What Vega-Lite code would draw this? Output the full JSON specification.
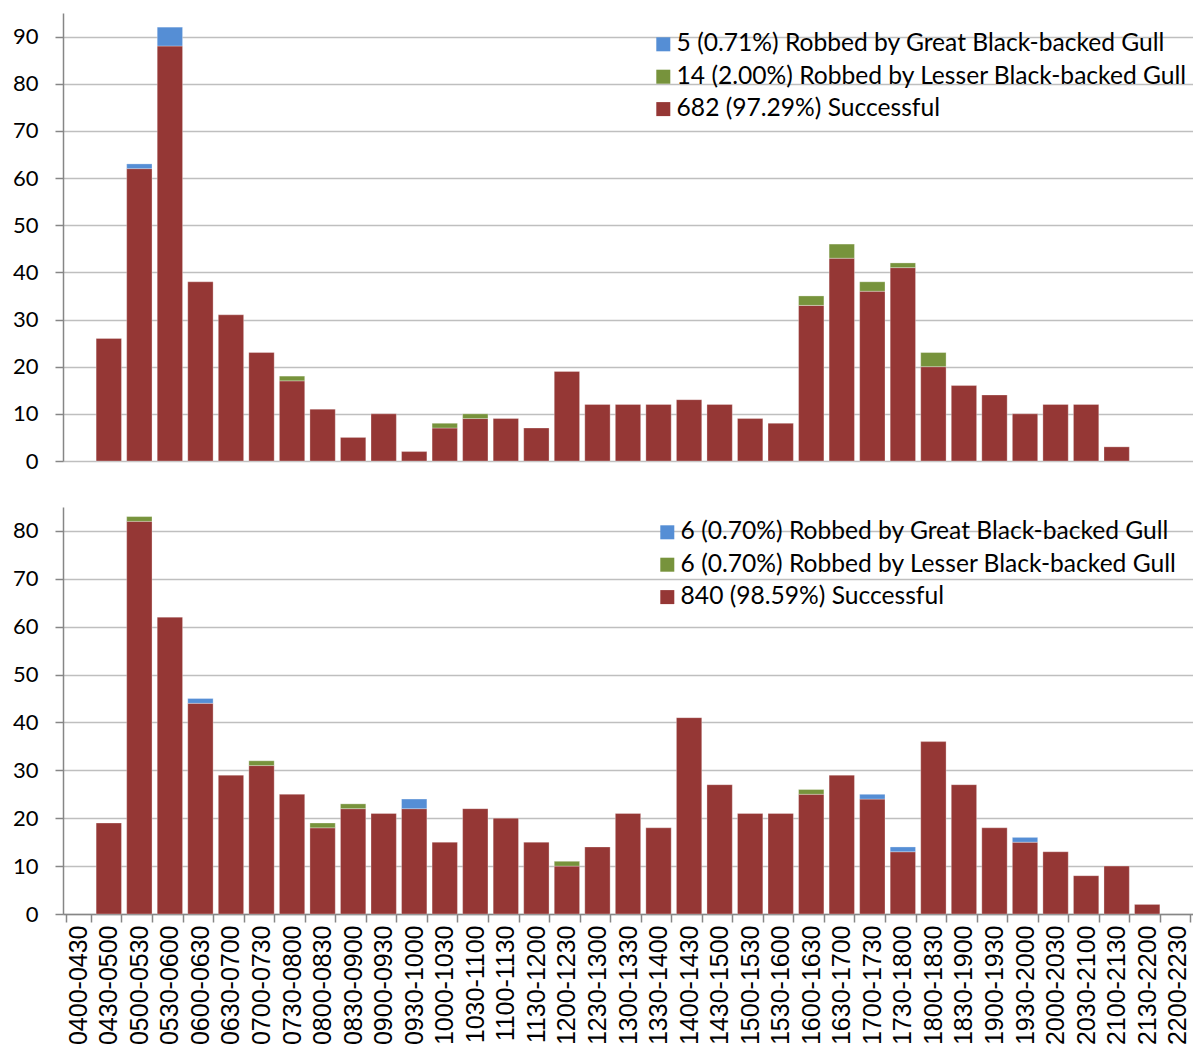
{
  "$schema": "https://vega.github.io/schema/vega-lite/v6.json",
  "padding": {"left": 12, "top": 13, "right": 0, "bottom": 0},
  "background": "white",
  "spacing": 46,
  "bounds": "flush",
  "config": {
    "view": {"stroke": null},
    "axis": {"labelColor": "#000000", "title": null},
    "legend": {"labelFont": "Lato", "labelFontSize": 24.6, "labelColor": "#000000", "symbolType": "square", "symbolSize": 196, "symbolStrokeWidth": 0, "rowPadding": 7.4, "labelOffset": 1, "labelLimit": 700}
  },
  "datasets": {
    "counts": [
      {"panel": "upper", "time": "0430-0500", "type": "Successful", "n": 26},
      {"panel": "upper", "time": "0500-0530", "type": "Successful", "n": 62},
      {"panel": "upper", "time": "0500-0530", "type": "Great", "n": 1},
      {"panel": "upper", "time": "0530-0600", "type": "Successful", "n": 88},
      {"panel": "upper", "time": "0530-0600", "type": "Great", "n": 4},
      {"panel": "upper", "time": "0600-0630", "type": "Successful", "n": 38},
      {"panel": "upper", "time": "0630-0700", "type": "Successful", "n": 31},
      {"panel": "upper", "time": "0700-0730", "type": "Successful", "n": 23},
      {"panel": "upper", "time": "0730-0800", "type": "Successful", "n": 17},
      {"panel": "upper", "time": "0730-0800", "type": "Lesser", "n": 1},
      {"panel": "upper", "time": "0800-0830", "type": "Successful", "n": 11},
      {"panel": "upper", "time": "0830-0900", "type": "Successful", "n": 5},
      {"panel": "upper", "time": "0900-0930", "type": "Successful", "n": 10},
      {"panel": "upper", "time": "0930-1000", "type": "Successful", "n": 2},
      {"panel": "upper", "time": "1000-1030", "type": "Successful", "n": 7},
      {"panel": "upper", "time": "1000-1030", "type": "Lesser", "n": 1},
      {"panel": "upper", "time": "1030-1100", "type": "Successful", "n": 9},
      {"panel": "upper", "time": "1030-1100", "type": "Lesser", "n": 1},
      {"panel": "upper", "time": "1100-1130", "type": "Successful", "n": 9},
      {"panel": "upper", "time": "1130-1200", "type": "Successful", "n": 7},
      {"panel": "upper", "time": "1200-1230", "type": "Successful", "n": 19},
      {"panel": "upper", "time": "1230-1300", "type": "Successful", "n": 12},
      {"panel": "upper", "time": "1300-1330", "type": "Successful", "n": 12},
      {"panel": "upper", "time": "1330-1400", "type": "Successful", "n": 12},
      {"panel": "upper", "time": "1400-1430", "type": "Successful", "n": 13},
      {"panel": "upper", "time": "1430-1500", "type": "Successful", "n": 12},
      {"panel": "upper", "time": "1500-1530", "type": "Successful", "n": 9},
      {"panel": "upper", "time": "1530-1600", "type": "Successful", "n": 8},
      {"panel": "upper", "time": "1600-1630", "type": "Successful", "n": 33},
      {"panel": "upper", "time": "1600-1630", "type": "Lesser", "n": 2},
      {"panel": "upper", "time": "1630-1700", "type": "Successful", "n": 43},
      {"panel": "upper", "time": "1630-1700", "type": "Lesser", "n": 3},
      {"panel": "upper", "time": "1700-1730", "type": "Successful", "n": 36},
      {"panel": "upper", "time": "1700-1730", "type": "Lesser", "n": 2},
      {"panel": "upper", "time": "1730-1800", "type": "Successful", "n": 41},
      {"panel": "upper", "time": "1730-1800", "type": "Lesser", "n": 1},
      {"panel": "upper", "time": "1800-1830", "type": "Successful", "n": 20},
      {"panel": "upper", "time": "1800-1830", "type": "Lesser", "n": 3},
      {"panel": "upper", "time": "1830-1900", "type": "Successful", "n": 16},
      {"panel": "upper", "time": "1900-1930", "type": "Successful", "n": 14},
      {"panel": "upper", "time": "1930-2000", "type": "Successful", "n": 10},
      {"panel": "upper", "time": "2000-2030", "type": "Successful", "n": 12},
      {"panel": "upper", "time": "2030-2100", "type": "Successful", "n": 12},
      {"panel": "upper", "time": "2100-2130", "type": "Successful", "n": 3},

      {"panel": "lower", "time": "0430-0500", "type": "Successful", "n": 19},
      {"panel": "lower", "time": "0500-0530", "type": "Successful", "n": 82},
      {"panel": "lower", "time": "0500-0530", "type": "Lesser", "n": 1},
      {"panel": "lower", "time": "0530-0600", "type": "Successful", "n": 62},
      {"panel": "lower", "time": "0600-0630", "type": "Successful", "n": 44},
      {"panel": "lower", "time": "0600-0630", "type": "Great", "n": 1},
      {"panel": "lower", "time": "0630-0700", "type": "Successful", "n": 29},
      {"panel": "lower", "time": "0700-0730", "type": "Successful", "n": 31},
      {"panel": "lower", "time": "0700-0730", "type": "Lesser", "n": 1},
      {"panel": "lower", "time": "0730-0800", "type": "Successful", "n": 25},
      {"panel": "lower", "time": "0800-0830", "type": "Successful", "n": 18},
      {"panel": "lower", "time": "0800-0830", "type": "Lesser", "n": 1},
      {"panel": "lower", "time": "0830-0900", "type": "Successful", "n": 22},
      {"panel": "lower", "time": "0830-0900", "type": "Lesser", "n": 1},
      {"panel": "lower", "time": "0900-0930", "type": "Successful", "n": 21},
      {"panel": "lower", "time": "0930-1000", "type": "Successful", "n": 22},
      {"panel": "lower", "time": "0930-1000", "type": "Great", "n": 2},
      {"panel": "lower", "time": "1000-1030", "type": "Successful", "n": 15},
      {"panel": "lower", "time": "1030-1100", "type": "Successful", "n": 22},
      {"panel": "lower", "time": "1100-1130", "type": "Successful", "n": 20},
      {"panel": "lower", "time": "1130-1200", "type": "Successful", "n": 15},
      {"panel": "lower", "time": "1200-1230", "type": "Successful", "n": 10},
      {"panel": "lower", "time": "1200-1230", "type": "Lesser", "n": 1},
      {"panel": "lower", "time": "1230-1300", "type": "Successful", "n": 14},
      {"panel": "lower", "time": "1300-1330", "type": "Successful", "n": 21},
      {"panel": "lower", "time": "1330-1400", "type": "Successful", "n": 18},
      {"panel": "lower", "time": "1400-1430", "type": "Successful", "n": 41},
      {"panel": "lower", "time": "1430-1500", "type": "Successful", "n": 27},
      {"panel": "lower", "time": "1500-1530", "type": "Successful", "n": 21},
      {"panel": "lower", "time": "1530-1600", "type": "Successful", "n": 21},
      {"panel": "lower", "time": "1600-1630", "type": "Successful", "n": 25},
      {"panel": "lower", "time": "1600-1630", "type": "Lesser", "n": 1},
      {"panel": "lower", "time": "1630-1700", "type": "Successful", "n": 29},
      {"panel": "lower", "time": "1700-1730", "type": "Successful", "n": 24},
      {"panel": "lower", "time": "1700-1730", "type": "Great", "n": 1},
      {"panel": "lower", "time": "1730-1800", "type": "Successful", "n": 13},
      {"panel": "lower", "time": "1730-1800", "type": "Great", "n": 1},
      {"panel": "lower", "time": "1800-1830", "type": "Successful", "n": 36},
      {"panel": "lower", "time": "1830-1900", "type": "Successful", "n": 27},
      {"panel": "lower", "time": "1900-1930", "type": "Successful", "n": 18},
      {"panel": "lower", "time": "1930-2000", "type": "Successful", "n": 15},
      {"panel": "lower", "time": "1930-2000", "type": "Great", "n": 1},
      {"panel": "lower", "time": "2000-2030", "type": "Successful", "n": 13},
      {"panel": "lower", "time": "2030-2100", "type": "Successful", "n": 8},
      {"panel": "lower", "time": "2100-2130", "type": "Successful", "n": 10},
      {"panel": "lower", "time": "2130-2200", "type": "Successful", "n": 2}
    ]
  },
  "resolve": {"scale": {"color": "independent", "y": "independent"}, "legend": {"color": "independent"}},
  "vconcat": [
    {
      "width": 1130,
      "height": 448,
      "data": {"name": "counts"},
      "transform": [{"filter": "datum.panel === 'upper'"}],
      "mark": {"type": "bar", "stroke": "#ffffff", "strokeWidth": 0.6, "strokeOpacity": 0.5},
      "encoding": {
        "x": {
          "field": "time", "type": "nominal",
          "scale": {"domain": ["0400-0430","0430-0500","0500-0530","0530-0600","0600-0630","0630-0700","0700-0730","0730-0800","0800-0830","0830-0900","0900-0930","0930-1000","1000-1030","1030-1100","1100-1130","1130-1200","1200-1230","1230-1300","1300-1330","1330-1400","1400-1430","1430-1500","1500-1530","1530-1600","1600-1630","1630-1700","1700-1730","1730-1800","1800-1830","1830-1900","1900-1930","1930-2000","2000-2030","2030-2100","2100-2130","2130-2200","2200-2230"], "paddingInner": 0.17, "paddingOuter": 0.085},
          "axis": null
        },
        "y": {
          "field": "n", "type": "quantitative", "stack": "zero",
          "scale": {"domain": [0, 95], "nice": false},
          "axis": {"values": [0,10,20,30,40,50,60,70,80,90], "labelFont": "Lato", "labelFontSize": 22, "labelPadding": 17, "tickSize": 8, "tickColor": "#868686", "tickWidth": 1.5, "domainColor": "#868686", "domainWidth": 1.5, "grid": true, "gridColor": "#BFBFBF", "gridWidth": 1.5}
        },
        "color": {
          "field": "type", "type": "nominal",
          "scale": {"domain": ["Great", "Lesser", "Successful"], "range": ["#558ED5", "#77933C", "#953735"]},
          "legend": {"title": null, "orient": "none", "legendX": 588, "legendY": 19, "labelExpr": "datum.label === 'Great' ? '5 (0.71%) Robbed by Great Black-backed Gull' : datum.label === 'Lesser' ? '14 (2.00%) Robbed by Lesser Black-backed Gull' : '682 (97.29%) Successful'"}
        },
        "order": {"field": "type", "sort": "descending"}
      }
    },
    {
      "width": 1130,
      "height": 407,
      "data": {"name": "counts"},
      "transform": [{"filter": "datum.panel === 'lower'"}],
      "mark": {"type": "bar", "stroke": "#ffffff", "strokeWidth": 0.6, "strokeOpacity": 0.5},
      "encoding": {
        "x": {
          "field": "time", "type": "nominal",
          "scale": {"domain": ["0400-0430","0430-0500","0500-0530","0530-0600","0600-0630","0630-0700","0700-0730","0730-0800","0800-0830","0830-0900","0900-0930","0930-1000","1000-1030","1030-1100","1100-1130","1130-1200","1200-1230","1230-1300","1300-1330","1330-1400","1400-1430","1430-1500","1500-1530","1530-1600","1600-1630","1630-1700","1700-1730","1730-1800","1800-1830","1830-1900","1900-1930","1930-2000","2000-2030","2030-2100","2100-2130","2130-2200","2200-2230"], "paddingInner": 0.17, "paddingOuter": 0.085},
          "axis": {"labelAngle": -90, "labelFont": "Liberation Sans", "labelFontSize": 25, "labelPadding": 3, "tickBand": "extent", "tickSize": 8, "tickColor": "#868686", "tickWidth": 1.5, "domainColor": "#868686", "domainWidth": 1.5, "grid": false, "labelLimit": 300}
        },
        "y": {
          "field": "n", "type": "quantitative", "stack": "zero",
          "scale": {"domain": [0, 85], "nice": false},
          "axis": {"values": [0,10,20,30,40,50,60,70,80], "labelFont": "Lato", "labelFontSize": 22, "labelPadding": 17, "tickSize": 8, "tickColor": "#868686", "tickWidth": 1.5, "domainColor": "#868686", "domainWidth": 1.5, "grid": true, "gridColor": "#BFBFBF", "gridWidth": 1.5}
        },
        "color": {
          "field": "type", "type": "nominal",
          "scale": {"domain": ["Great", "Lesser", "Successful"], "range": ["#558ED5", "#77933C", "#953735"]},
          "legend": {"title": null, "orient": "none", "legendX": 592, "legendY": 13, "labelExpr": "datum.label === 'Great' ? '6 (0.70%) Robbed by Great Black-backed Gull' : datum.label === 'Lesser' ? '6 (0.70%) Robbed by Lesser Black-backed Gull' : '840 (98.59%) Successful'"}
        },
        "order": {"field": "type", "sort": "descending"}
      }
    }
  ]
}
